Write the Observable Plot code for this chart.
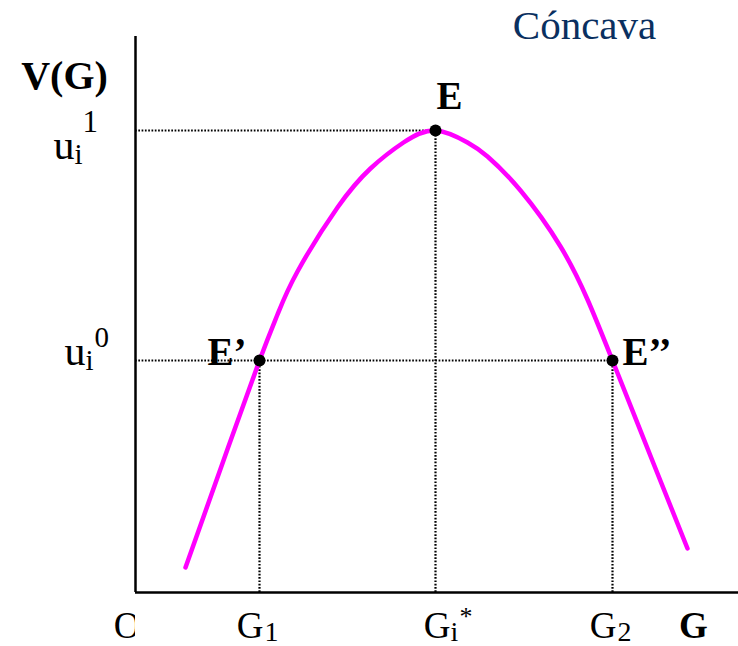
<!DOCTYPE html>
<html>
<head>
<meta charset="utf-8">
<script src="https://cdn.jsdelivr.net/npm/d3@7"></script>
<script src="https://cdn.jsdelivr.net/npm/@observablehq/plot@0.6"></script>
<style>
  html, body { margin: 0; padding: 0; background: #fff; }
  #chart svg { display: block; }
  #chart svg text { font-family: "Liberation Serif", "Times New Roman", Times, serif; }
</style>
</head>
<body>
<div id="chart"></div>
<script>
// Curve V(G) (arbitrary units)
const curveG = [50, 88, 124, 142, 162, 202, 235, 268, 300, 332, 352, 385, 425, 452, 477, 518, 552];
const curveV = [25, 132, 232, 278, 321, 385, 424, 450, 462, 450, 436, 402, 346, 293, 232, 129, 44];

// Key values
const G1 = 124, Gstar = 300, G2 = 477;
const u0 = 232, u1 = 462;
const xMax = 603, yMax = 556;

// Points and their labels
const pointNames = ["E’", "E", "E’’"];
const pointG = [G1, Gstar, G2];
const pointV = [u0, u1, u0];

const curve = curveG.map((g, i) => ({g, v: curveV[i]}));
const pts = pointNames.map((n, i) => ({name: n, g: pointG[i], v: pointV[i]}));

const serif = "Liberation Serif";
const dotted = {stroke: "#000", strokeWidth: 2.2, strokeDasharray: "1.7,1.6"};
const T = {fontFamily: serif, fill: "#000", lineAnchor: "bottom"};

const chart = Plot.plot({
  width: 738,
  height: 646,
  marginTop: 36,
  marginBottom: 54,
  marginLeft: 135,
  marginRight: 0,
  style: {fontFamily: serif, background: "#fff", overflow: "visible"},
  x: {domain: [0, xMax], axis: null},
  y: {domain: [0, yMax], axis: null},
  marks: [
    // dotted guide lines
    Plot.ruleY([{v: u1, g: Gstar}, {v: u0, g: G2}], {y: "v", x1: 0, x2: "g", ...dotted}),
    Plot.ruleX([{g: G1, v: u0}, {g: Gstar, v: u1}, {g: G2, v: u0}], {x: "g", y1: 0, y2: "v", ...dotted}),
    // axes
    Plot.ruleX([0], {y1: 0, y2: yMax, stroke: "#000", strokeWidth: 2.5}),
    Plot.ruleY([0], {x1: 0, x2: xMax, stroke: "#000", strokeWidth: 2.5}),
    // curve
    Plot.line(curve, {x: "g", y: "v", curve: "natural", stroke: "#ff00ff", strokeWidth: 4.5}),
    // points
    Plot.dot(pts, {x: "g", y: "v", r: 6, fill: "#000", stroke: "none"}),
    // point labels
    Plot.text(pts.filter(d => d.name === "E"), {...T, x: "g", y: "v", text: "name", textAnchor: "start", dx: 1, dy: -22, fontSize: 39, fontWeight: "bold"}),
    Plot.text(pts.filter(d => d.name === "E’"), {...T, x: "g", y: "v", text: "name", textAnchor: "end", dx: -13, dy: 4, fontSize: 39, fontWeight: "bold"}),
    Plot.text(pts.filter(d => d.name === "E’’"), {...T, x: "g", y: "v", text: "name", textAnchor: "start", dx: 10, dy: 4, fontSize: 39, fontWeight: "bold"}),
    // x tick labels: G1, Gi*, G2
    Plot.text([G1, G2], {...T, x: d => d, y: 0, text: ["G", "G"], textAnchor: "end", dx: 4, dy: 45, fontSize: 37}),
    Plot.text([G1, G2], {...T, x: d => d, y: 0, text: ["1", "2"], textAnchor: "start", dx: 5, dy: 48, fontSize: 28}),
    Plot.text([Gstar], {...T, x: d => d, y: 0, text: ["G"], textAnchor: "end", dx: 15, dy: 45, fontSize: 37}),
    Plot.text([Gstar], {...T, x: d => d, y: 0, text: ["i"], textAnchor: "start", dx: 15, dy: 48, fontSize: 28}),
    Plot.text([Gstar], {...T, x: d => d, y: 0, text: ["*"], textAnchor: "start", dx: 24, dy: 32, fontSize: 26}),
    // origin label (partly hidden behind the axis corner)
    Plot.text([0], {...T, x: 0, y: 0, text: ["O"], textAnchor: "end", dx: 5, dy: 45, fontSize: 37}),
    Plot.rect([0], {x1: 0, x2: 12, y1: -14, y2: -54, fill: "#fff"}),
    // y tick labels: ui1, ui0
    Plot.text([u1], {...T, x: 0, y: d => d, text: ["u"], textAnchor: "end", dx: -61, dy: 28, fontSize: 42}),
    Plot.text([u1], {...T, x: 0, y: d => d, text: ["i"], textAnchor: "start", dx: -61, dy: 33, fontSize: 29}),
    Plot.text([u1], {...T, x: 0, y: d => d, text: ["1"], textAnchor: "start", dx: -53, dy: 1, fontSize: 31}),
    Plot.text([u0], {...T, x: 0, y: d => d, text: ["u"], textAnchor: "end", dx: -50, dy: 4, fontSize: 42}),
    Plot.text([u0], {...T, x: 0, y: d => d, text: ["i"], textAnchor: "start", dx: -50, dy: 9, fontSize: 29}),
    Plot.text([u0], {...T, x: 0, y: d => d, text: ["0"], textAnchor: "start", dx: -41, dy: -14, fontSize: 29}),
    // axis titles
    Plot.text(["V(G)"], {...T, frameAnchor: "top-left", text: d => d, textAnchor: "middle", dx: -71, dy: 52, fontSize: 40, fontWeight: "bold"}),
    Plot.text(["G"], {...T, frameAnchor: "bottom-right", text: d => d, textAnchor: "middle", dx: -45, dy: 45, fontSize: 37, fontWeight: "bold"}),
    // title
    Plot.text(["Cóncava"], {...T, frameAnchor: "top-right", text: d => d, textAnchor: "middle", dx: -154, dy: 2, fontSize: 41, fill: "#0a3060"})
  ]
});
document.getElementById("chart").appendChild(chart);
</script>
</body>
</html>
